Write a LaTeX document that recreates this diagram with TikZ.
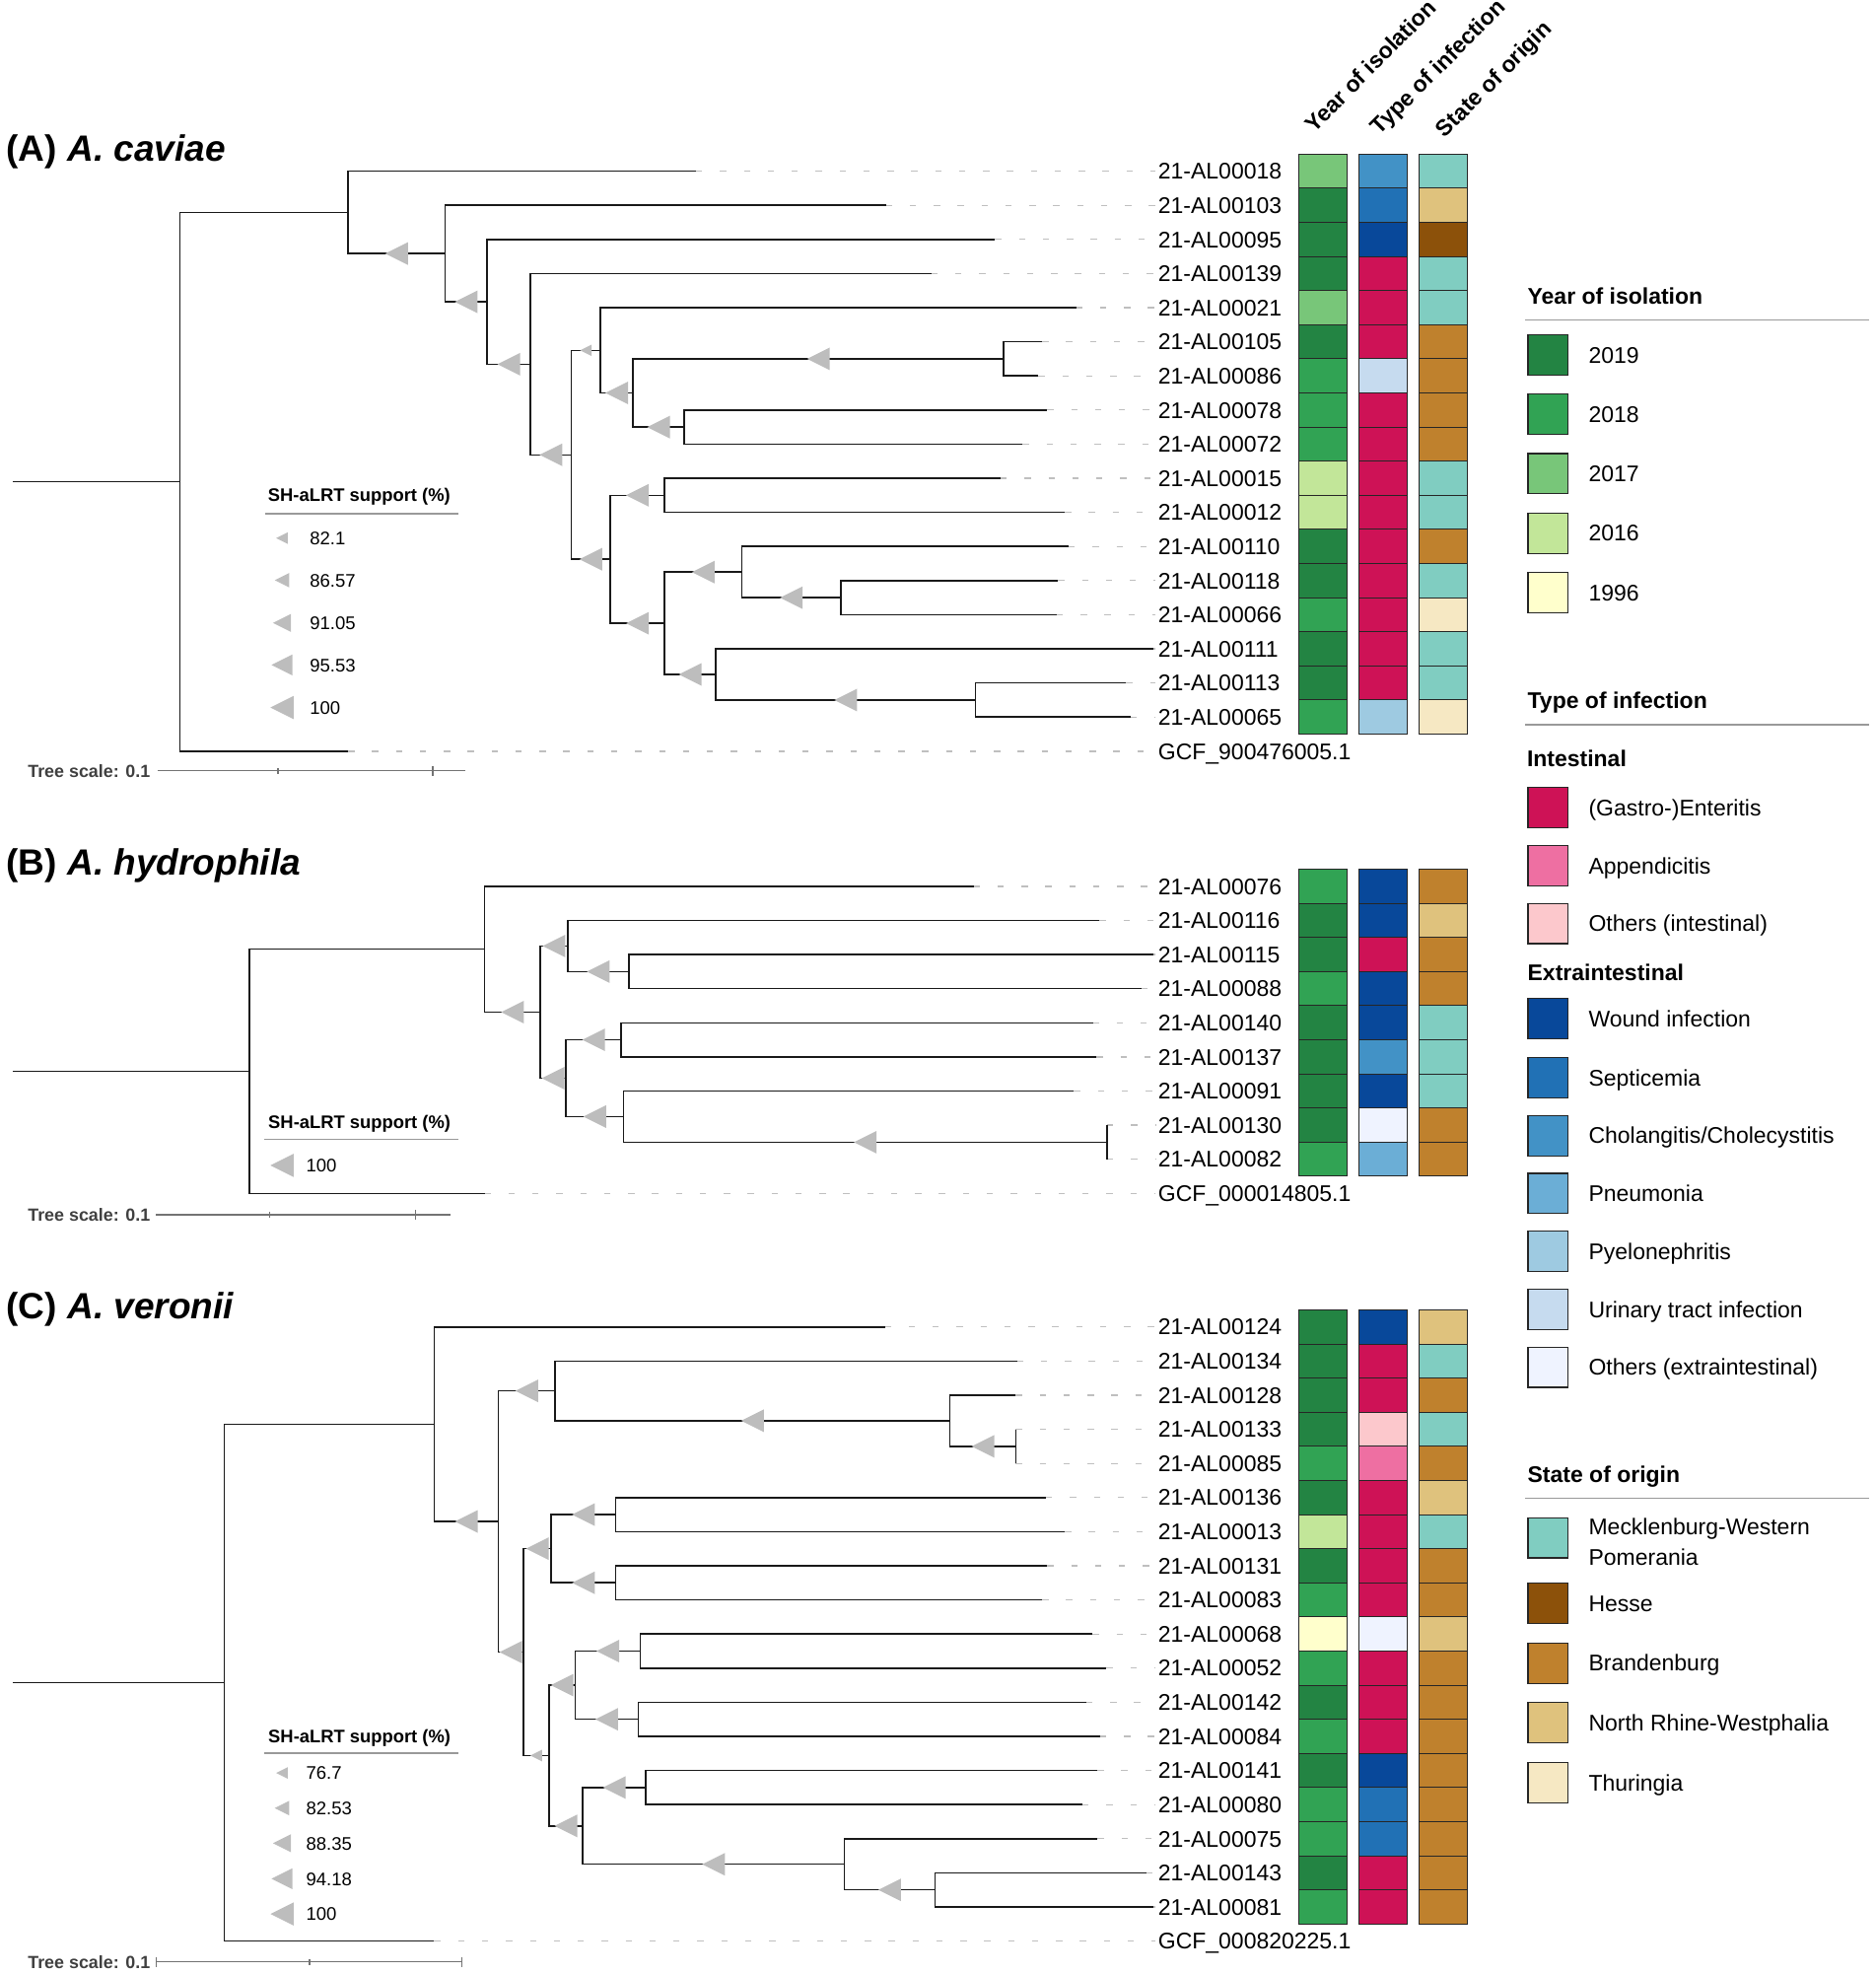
\documentclass[tikz,border=0pt]{standalone}
\usepackage{fontspec}
\setmainfont{Liberation Sans}
\newcommand{\fsz}[1]{\fontsize{#1}{#1}\selectfont}

% year of isolation
\definecolor{y19}{HTML}{238443}
\definecolor{y18}{HTML}{31A354}
\definecolor{y17}{HTML}{78C679}
\definecolor{y16}{HTML}{C2E699}
\definecolor{y96}{HTML}{FFFFCC}
% type of infection
\definecolor{gas}{HTML}{CE1256}
\definecolor{app}{HTML}{EE6FA2}
\definecolor{othi}{HTML}{FCC8CC}
\definecolor{wnd}{HTML}{08489A}
\definecolor{sep}{HTML}{2171B5}
\definecolor{cho}{HTML}{4292C6}
\definecolor{pne}{HTML}{6BAED6}
\definecolor{pye}{HTML}{9ECAE1}
\definecolor{uti}{HTML}{C6DBEF}
\definecolor{othe}{HTML}{EFF3FF}
% state of origin
\definecolor{mwp}{HTML}{80CDC1}
\definecolor{hes}{HTML}{8C510A}
\definecolor{bra}{HTML}{BF812D}
\definecolor{nrw}{HTML}{DFC27D}
\definecolor{thu}{HTML}{F6E8C3}
\definecolor{trigray}{HTML}{BDBDBD}

\tikzset{
  branch/.style={draw=black!90, line width=1.2pt},
  leader/.style={draw=black!25, line width=1pt, dash pattern=on 5pt off 14pt},
  leaf/.style={anchor=base west, inner sep=2pt, font=\fsz{18}},
  cell/.style={draw=black!85, line width=0.8pt, minimum width=38.5pt, minimum height=27.1pt, inner sep=0pt},
  lbox/.style={draw=black!85, line width=0.9pt, minimum size=32pt, inner sep=0pt},
  lgitem/.style={anchor=base west, inner sep=0pt, font=\fsz{18}},
  lghead/.style={anchor=base west, inner sep=0pt, font=\fsz{18}\bfseries},
  lgline/.style={draw=black!40, line width=1.1pt},
  coltitle/.style={anchor=base west, inner sep=0pt, rotate=45, font=\fsz{18}\bfseries},
  paneltitle/.style={anchor=base west, inner sep=0pt, font=\fsz{29}\bfseries},
  shtitle/.style={anchor=base west, inner sep=0pt, font=\fsz{14.4}\bfseries},
  shval/.style={anchor=base west, inner sep=0pt, font=\fsz{14.5}},
  scaletxt/.style={anchor=base west, inner sep=0pt, font=\fsz{14}\bfseries, text=black!75},
  scalebar/.style={draw=black!55, line width=1pt},
  pics/shtri/.style={code={\fill[trigray] (-#1,0) -- (#1,-#1) -- (#1,#1) -- cycle;}}
}

\begin{document}
\begin{tikzpicture}[x=1pt,y=1pt,yscale=-1,xscale=1]
\useasboundingbox (0,0) rectangle (1490,1568);

% Column titles
\node[coltitle] (hyr) at (1044,106) {Year of isolation};
\node[coltitle] (hty) at (1096,108) {Type of infection};
\node[coltitle] (hst) at (1148,110) {State of origin};

% Panel titles
\node[paneltitle] (ta) at (5,128.4) {(A) \textit{A. caviae}};
\node[paneltitle] (tb) at (5,695.4) {(B) \textit{A. hydrophila}};
\node[paneltitle] (tc) at (5,1047.4) {(C) \textit{A. veronii}};

%%%%%%%%%%%%%%%% (A) A. caviae
% leaves
\foreach \nm/\tx [count=\i from 0] in {00018/553,00103/703.8,00095/790.6,00139/740,00021/855,00105/828,00086/825,00078/832,00072/812.5,00015/795,00012/846,00110/849,00118/840.6,00066/839.5,00111/916,00113/894.7,00065/898}{
  \coordinate (a\nm) at (\tx,{136+27.1*\i});
  \node[leaf] (a\nm-lab) at (918,{142.45+27.1*\i}) {21-AL\nm};
  \draw[leader] (a\nm) -- (a\nm -| a\nm-lab.west);
}
\coordinate (agcf) at (276.6,596.7);
\node[leaf] (agcf-lab) at (918,603.15) {GCF\_900476005.1};
\draw[leader] (agcf) -- (agcf -| agcf-lab.west);
% inner nodes
\coordinate (ar0) at (10,382.7);
\coordinate (ar) at (143,382.7);
\coordinate (an1) at (276.6,168.71);
\coordinate (an2) at (353.6,201.42);
\coordinate (an3) at (387,239.74);
\coordinate (an4) at (421.5,289.28);
\coordinate (an5) at (454,361.27);
\coordinate (an6) at (477,278.28);
\coordinate (an7) at (503,312.15);
\coordinate (an7a) at (797.5,285.05);
\coordinate (an8) at (543.4,339.25);
\coordinate (an9) at (484.7,444.26);
\coordinate (an10) at (528,393.45);
\coordinate (an11) at (528,495.08);
\coordinate (an12) at (589.4,454.43);
\coordinate (an13) at (668,474.75);
\coordinate (an14) at (568.7,535.73);
\coordinate (an15) at (775,556.05);
% branches
\draw[branch] (ar0) -- (ar);
\draw[branch] (ar) |- (an1);
\draw[branch] (ar) |- (agcf);
\draw[branch] (an1) |- (a00018);
\draw[branch] (an1) |- (an2) coordinate[pos=.75] (an2s);
\draw[branch] (an2) |- (a00103);
\draw[branch] (an2) |- (an3) coordinate[pos=.75] (an3s);
\draw[branch] (an3) |- (a00095);
\draw[branch] (an3) |- (an4) coordinate[pos=.75] (an4s);
\draw[branch] (an4) |- (a00139);
\draw[branch] (an4) |- (an5) coordinate[pos=.75] (an5s);
\draw[branch] (an5) |- (an6) coordinate[pos=.75] (an6s);
\draw[branch] (an5) |- (an9) coordinate[pos=.75] (an9s);
\draw[branch] (an6) |- (a00021);
\draw[branch] (an6) |- (an7) coordinate[pos=.75] (an7s);
\draw[branch] (an7) |- (an7a) coordinate[pos=.75] (an7as);
\draw[branch] (an7) |- (an8) coordinate[pos=.75] (an8s);
\draw[branch] (an7a) |- (a00105);
\draw[branch] (an7a) |- (a00086);
\draw[branch] (an8) |- (a00078);
\draw[branch] (an8) |- (a00072);
\draw[branch] (an9) |- (an10) coordinate[pos=.75] (an10s);
\draw[branch] (an9) |- (an11) coordinate[pos=.75] (an11s);
\draw[branch] (an10) |- (a00015);
\draw[branch] (an10) |- (a00012);
\draw[branch] (an11) |- (an12) coordinate[pos=.75] (an12s);
\draw[branch] (an11) |- (an14) coordinate[pos=.75] (an14s);
\draw[branch] (an12) |- (a00110);
\draw[branch] (an12) |- (an13) coordinate[pos=.75] (an13s);
\draw[branch] (an13) |- (a00118);
\draw[branch] (an13) |- (a00066);
\draw[branch] (an14) |- (a00111);
\draw[branch] (an14) |- (an15) coordinate[pos=.75] (an15s);
\draw[branch] (an15) |- (a00113);
\draw[branch] (an15) |- (a00065);
% support
\foreach \c/\h in {an2s/9,an3s/9,an4s/9,an5s/9,an6s/4.6,an7s/9,an7as/9,an8s/9,an9s/9,an10s/9,an11s/9,an12s/9,an13s/9,an14s/9,an15s/9}
  \pic at (\c) {shtri=\h};
% heatmap
\foreach \yr/\ty/\st [count=\i from 0] in {y17/cho/mwp,y19/sep/nrw,y19/wnd/hes,y19/gas/mwp,y17/gas/mwp,y19/gas/bra,y18/uti/bra,y18/gas/bra,y18/gas/bra,y16/gas/mwp,y16/gas/mwp,y19/gas/bra,y19/gas/mwp,y18/gas/thu,y19/gas/mwp,y19/gas/mwp,y18/pye/thu}{
  \node[cell,fill=\yr] (ayr\i) at (1051,{136+27.1*\i}) {};
  \node[cell,fill=\ty] (aty\i) at (1099,{136+27.1*\i}) {};
  \node[cell,fill=\st] (ast\i) at (1146.75,{136+27.1*\i}) {};
}
% support legend
\node[shtitle] (ash) at (212.8,398.15) {SH-aLRT support (\%)};
\draw[lgline] (210.5,408) -- (364,408);
\foreach \v/\h/\yy in {82.1/4.6/427.4,86.57/5.7/460.9,91.05/7.2/494.8,95.53/8.3/528.2,100/9.2/562}{
  \pic at (224,\yy) {shtri=\h};
  \node[shval] at (246,{\yy+5.2}) {\v};
}
% tree scale
\node[scaletxt] (asc) at (22,617.3) {Tree scale: 0.1};
\draw[scalebar] (125,612.3) -- (370,612.3);
\draw[scalebar] (220.8,609.8) -- (220.8,614.8);
\draw[scalebar] (343.8,608.3) -- (343.8,616.3);

%%%%%%%%%%%%%%%% (B) A. hydrophila
% leaves
\foreach \nm/\tx [count=\i from 0] in {00076/773.5,00116/873.6,00115/916,00088/907,00140/868.2,00137/871.2,00091/853.3,00130/879.6,00082/879.6}{
  \coordinate (b\nm) at (\tx,{704+27.1*\i});
  \node[leaf] (b\nm-lab) at (918,{710.45+27.1*\i}) {21-AL\nm};
  \draw[leader] (b\nm) -- (b\nm -| b\nm-lab.west);
}
\coordinate (bgcf) at (385,947.9);
\node[leaf] (bgcf-lab) at (918,954.35) {GCF\_000014805.1};
\draw[leader] (bgcf) -- (bgcf -| bgcf-lab.west);
% inner nodes
\coordinate (br0) at (10,850.93);
\coordinate (br) at (198,850.93);
\coordinate (bn1) at (385,753.97);
\coordinate (bn2) at (429.3,803.93);
\coordinate (bn3) at (451,751.43);
\coordinate (bn4) at (499.5,771.75);
\coordinate (bn5) at (449.7,856.44);
\coordinate (bn6) at (493.5,825.95);
\coordinate (bn7) at (495.3,886.93);
\coordinate (bn8) at (879.6,907.25);
% branches
\draw[branch] (br0) -- (br);
\draw[branch] (br) |- (bn1);
\draw[branch] (br) |- (bgcf);
\draw[branch] (bn1) |- (b00076);
\draw[branch] (bn1) |- (bn2) coordinate[pos=.75] (bn2s);
\draw[branch] (bn2) |- (bn3) coordinate[pos=.75] (bn3s);
\draw[branch] (bn2) |- (bn5) coordinate[pos=.75] (bn5s);
\draw[branch] (bn3) |- (b00116);
\draw[branch] (bn3) |- (bn4) coordinate[pos=.75] (bn4s);
\draw[branch] (bn4) |- (b00115);
\draw[branch] (bn4) |- (b00088);
\draw[branch] (bn5) |- (bn6) coordinate[pos=.75] (bn6s);
\draw[branch] (bn5) |- (bn7) coordinate[pos=.75] (bn7s);
\draw[branch] (bn6) |- (b00140);
\draw[branch] (bn6) |- (b00137);
\draw[branch] (bn7) |- (b00091);
\draw[branch] (bn7) |- (bn8) coordinate[pos=.75] (bn8s);
\draw[branch] (bn8) |- (b00130);
\draw[branch] (bn8) |- (b00082);
% support
\foreach \c in {bn2s,bn3s,bn4s,bn5s,bn6s,bn7s,bn8s}
  \pic at (\c) {shtri=9};
% heatmap
\foreach \yr/\ty/\st [count=\i from 0] in {y18/wnd/bra,y19/wnd/nrw,y19/gas/bra,y18/wnd/bra,y19/wnd/mwp,y19/cho/mwp,y19/wnd/mwp,y19/othe/bra,y18/pne/bra}{
  \node[cell,fill=\yr] (byr\i) at (1051,{704+27.1*\i}) {};
  \node[cell,fill=\ty] (bty\i) at (1099,{704+27.1*\i}) {};
  \node[cell,fill=\st] (bst\i) at (1146.75,{704+27.1*\i}) {};
}
% support legend
\node[shtitle] (bsh) at (213,896.15) {SH-aLRT support (\%)};
\draw[lgline] (210,905) -- (364,905);
\pic at (224,925.7) {shtri=9.2};
\node[shval] (bsh100) at (243,930.9) {100};
% tree scale
\node[scaletxt] (bsc) at (22,969.9) {Tree scale: 0.1};
\draw[scalebar] (124,964.9) -- (358,964.9);
\draw[scalebar] (214,962.4) -- (214,967.4);
\draw[scalebar] (330,960.9) -- (330,968.9);

%%%%%%%%%%%%%%%% (C) A. veronii
% leaves
\foreach \nm/\tx [count=\i from 0] in {00124/703,00134/808,00128/807,00133/807,00085/807,00136/831,00013/846,00131/832,00083/828,00068/868,00052/879,00142/863,00084/874,00141/871.8,00080/860,00075/872,00143/910.8,00081/916}{
  \coordinate (c\nm) at (\tx,{1054+27.1*\i});
  \node[leaf] (c\nm-lab) at (918,{1060.45+27.1*\i}) {21-AL\nm};
  \draw[leader] (c\nm) -- (c\nm -| c\nm-lab.west);
}
\coordinate (cgcf) at (345,1541.8);
\node[leaf] (cgcf-lab) at (918,1548.25) {GCF\_000820225.1};
\draw[leader] (cgcf) -- (cgcf -| cgcf-lab.west);
% inner nodes
\coordinate (cr0) at (10,1336.54);
\coordinate (cr) at (178,1336.54);
\coordinate (cn1) at (345,1131.28);
\coordinate (cn2) at (396,1208.55);
\coordinate (cn3) at (441,1104.81);
\coordinate (cn3a) at (754.8,1128.53);
\coordinate (cn3b) at (807,1148.85);
\coordinate (cn4) at (415.8,1312.3);
\coordinate (cn5) at (438,1230.15);
\coordinate (cn5a) at (489,1203.05);
\coordinate (cn6) at (489,1257.25);
\coordinate (cn7) at (436.2,1394.44);
\coordinate (cn8) at (457,1338.55);
\coordinate (cn8a) at (508.8,1311.45);
\coordinate (cn9) at (507,1365.65);
\coordinate (cn10) at (463,1450.34);
\coordinate (cn10a) at (513,1419.85);
\coordinate (cn11) at (670.8,1480.83);
\coordinate (cn12) at (742.8,1501.15);
% branches
\draw[branch] (cr0) -- (cr);
\draw[branch] (cr) |- (cn1);
\draw[branch] (cr) |- (cgcf);
\draw[branch] (cn1) |- (c00124);
\draw[branch] (cn1) |- (cn2) coordinate[pos=.75] (cn2s);
\draw[branch] (cn2) |- (cn3) coordinate[pos=.75] (cn3s);
\draw[branch] (cn2) |- (cn4) coordinate[pos=.75] (cn4s);
\draw[branch] (cn3) |- (c00134);
\draw[branch] (cn3) |- (cn3a) coordinate[pos=.75] (cn3as);
\draw[branch] (cn3a) |- (c00128);
\draw[branch] (cn3a) |- (cn3b) coordinate[pos=.75] (cn3bs);
\draw[branch] (cn3b) |- (c00133);
\draw[branch] (cn3b) |- (c00085);
\draw[branch] (cn4) |- (cn5) coordinate[pos=.75] (cn5s);
\draw[branch] (cn4) |- (cn7) coordinate[pos=.75] (cn7s);
\draw[branch] (cn5) |- (cn5a) coordinate[pos=.75] (cn5as);
\draw[branch] (cn5) |- (cn6) coordinate[pos=.75] (cn6s);
\draw[branch] (cn5a) |- (c00136);
\draw[branch] (cn5a) |- (c00013);
\draw[branch] (cn6) |- (c00131);
\draw[branch] (cn6) |- (c00083);
\draw[branch] (cn7) |- (cn8) coordinate[pos=.75] (cn8s);
\draw[branch] (cn7) |- (cn10) coordinate[pos=.75] (cn10s);
\draw[branch] (cn8) |- (cn8a) coordinate[pos=.75] (cn8as);
\draw[branch] (cn8) |- (cn9) coordinate[pos=.75] (cn9s);
\draw[branch] (cn8a) |- (c00068);
\draw[branch] (cn8a) |- (c00052);
\draw[branch] (cn9) |- (c00142);
\draw[branch] (cn9) |- (c00084);
\draw[branch] (cn10) |- (cn10a) coordinate[pos=.75] (cn10as);
\draw[branch] (cn10) |- (cn11) coordinate[pos=.75] (cn11s);
\draw[branch] (cn10a) |- (c00141);
\draw[branch] (cn10a) |- (c00080);
\draw[branch] (cn11) |- (c00075);
\draw[branch] (cn11) |- (cn12) coordinate[pos=.75] (cn12s);
\draw[branch] (cn12) |- (c00143);
\draw[branch] (cn12) |- (c00081);
% support
\foreach \c/\h in {cn2s/9,cn3s/9,cn3as/9,cn3bs/9,cn4s/9,cn5s/9,cn5as/9,cn6s/9,cn7s/4.6,cn8s/9,cn8as/9,cn9s/9,cn10s/9,cn10as/9,cn11s/9,cn12s/9}
  \pic at (\c) {shtri=\h};
% heatmap
\foreach \yr/\ty/\st [count=\i from 0] in {y19/wnd/nrw,y19/gas/mwp,y19/gas/bra,y19/othi/mwp,y18/app/bra,y19/gas/nrw,y16/gas/mwp,y19/gas/bra,y18/gas/bra,y96/othe/nrw,y18/gas/bra,y19/gas/bra,y18/gas/bra,y19/wnd/bra,y18/sep/bra,y18/sep/bra,y19/gas/bra,y18/gas/bra}{
  \node[cell,fill=\yr] (cyr\i) at (1051,{1054+27.1*\i}) {};
  \node[cell,fill=\ty] (cty\i) at (1099,{1054+27.1*\i}) {};
  \node[cell,fill=\st] (cst\i) at (1146.75,{1054+27.1*\i}) {};
}
% support legend
\node[shtitle] (csh) at (213,1383.95) {SH-aLRT support (\%)};
\draw[lgline] (210,1392.6) -- (364,1392.6);
\foreach \v/\h/\yy in {76.7/4.6/1408.3,82.53/5.7/1436.2,88.35/7.2/1464.1,94.18/8.3/1492.3,100/9.2/1520.3}{
  \pic at (224,\yy) {shtri=\h};
  \node[shval] at (243,{\yy+5.2}) {\v};
}
% tree scale
\node[scaletxt] (csc) at (22,1563.4) {Tree scale: 0.1};
\draw[scalebar] (124,1558.4) -- (367,1558.4);
\draw[scalebar] (124,1554.4) -- (124,1562.4);
\draw[scalebar] (246,1555.9) -- (246,1560.9);
\draw[scalebar] (367,1554.4) -- (367,1562.4);

%%%%%%%%%%%%%%%% Legend
% Year of isolation
\node[lghead] (lyear) at (1213.5,241.45) {Year of isolation};
\draw[lgline] (1212,254.3) -- (1485,254.3);
\foreach \c/\t/\yy in {y19/2019/282,y18/2018/329,y17/2017/376.3,y16/2016/423.5,y96/1996/470.8}{
  \node[lbox,fill=\c] (lb\c) at (1230,\yy) {};
  \node[lgitem] (lt\c) at (1262,{\yy+6.45}) {\t};
}
% Type of infection
\node[lghead] (ltype) at (1213.5,562.85) {Type of infection};
\draw[lgline] (1212,575.8) -- (1485,575.8);
\node[lghead] (lint) at (1213,609.15) {Intestinal};
\node[lghead] (lext) at (1213.5,778.75) {Extraintestinal};
\foreach \c/\t/\yy in {gas/(Gastro-)Enteritis/641.5,app/Appendicitis/687.5,othi/Others (intestinal)/733.5,wnd/Wound infection/809,sep/Septicemia/856,cho/{Cholangitis/Cholecystitis}/902,pne/Pneumonia/948,pye/Pyelonephritis/994,uti/Urinary tract infection/1040,othe/Others (extraintestinal)/1086}{
  \node[lbox,fill=\c] (lb\c) at (1230,\yy) {};
  \node[lgitem] (lt\c) at (1262,{\yy+6.45}) {\t};
}
% State of origin
\node[lghead] (lstate) at (1213.5,1177.45) {State of origin};
\draw[lgline] (1212,1190.2) -- (1485,1190.2);
\node[lbox,fill=mwp] (lbmwp) at (1230,1221.5) {};
\node[lgitem] (ltmwp) at (1262,1218.95) {Mecklenburg-Western};
\node[lgitem] (ltmwp2) at (1262,1242.95) {Pomerania};
\foreach \c/\t/\yy in {hes/Hesse/1273.5,bra/Brandenburg/1321,nrw/North Rhine-Westphalia/1368.5,thu/Thuringia/1416}{
  \node[lbox,fill=\c] (lb\c) at (1230,\yy) {};
  \node[lgitem] (lt\c) at (1262,{\yy+6.45}) {\t};
}

\end{tikzpicture}
\end{document}
